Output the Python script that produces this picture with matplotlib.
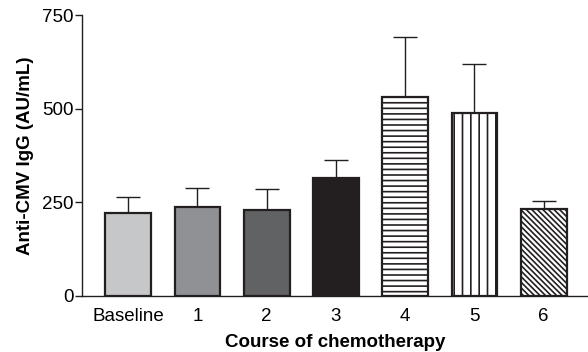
import matplotlib
matplotlib.use("Agg")
import matplotlib.pyplot as plt
import numpy as np

plt.rcParams['font.family'] = ['Liberation Sans', 'DejaVu Sans']
plt.rcParams['hatch.linewidth'] = 1.2

# data
courses = ["Baseline", "1", "2", "3", "4", "5", "6"]
means = [222, 238, 230, 315, 531, 488, 232]
upper_err = [41, 49, 56, 49, 161, 131, 22]
fills = ["#c6c7c9", "#8f9194", "#616264", "#231f20", "white", "white", "white"]
hatches = [None, None, None, None, "---", "||", "\\" * 6]

ink = "#231f20"

fig = plt.figure(figsize=(5.88, 3.52), dpi=100)
ax = fig.add_axes([0.139, 0.16, 0.861, 0.797])

x = np.arange(len(courses))
bars = ax.bar(x, means, width=0.66, color=fills, edgecolor=ink, linewidth=1.6, zorder=2)
for b, h in zip(bars, hatches):
    if h:
        b.set_hatch(h)

ax.errorbar(x, means, yerr=[np.zeros(len(x)), upper_err], fmt="none",
            ecolor=ink, elinewidth=1.0, capsize=8.5, capthick=1.0, zorder=1)

ax.set_xlim(-0.67, 6.64)
ax.set_ylim(0, 750)
ax.set_yticks([0, 250, 500, 750])
ax.set_xticks(x)
ax.set_xticklabels(courses)

for s in ["top", "right"]:
    ax.spines[s].set_visible(False)
for s in ["left", "bottom"]:
    ax.spines[s].set_color(ink)
    ax.spines[s].set_linewidth(1.0)

ax.tick_params(axis="y", length=5, width=1, color=ink, labelsize=13.5, pad=1)
ax.tick_params(axis="x", length=0, labelsize=13.5, pad=9)

ax.set_ylabel("Anti-CMV IgG (AU/mL)", fontsize=13.5, fontweight="bold", labelpad=6)
ax.set_xlabel("Course of chemotherapy", fontsize=13.5, fontweight="bold", labelpad=6)

fig.savefig("out.png", dpi=100)
